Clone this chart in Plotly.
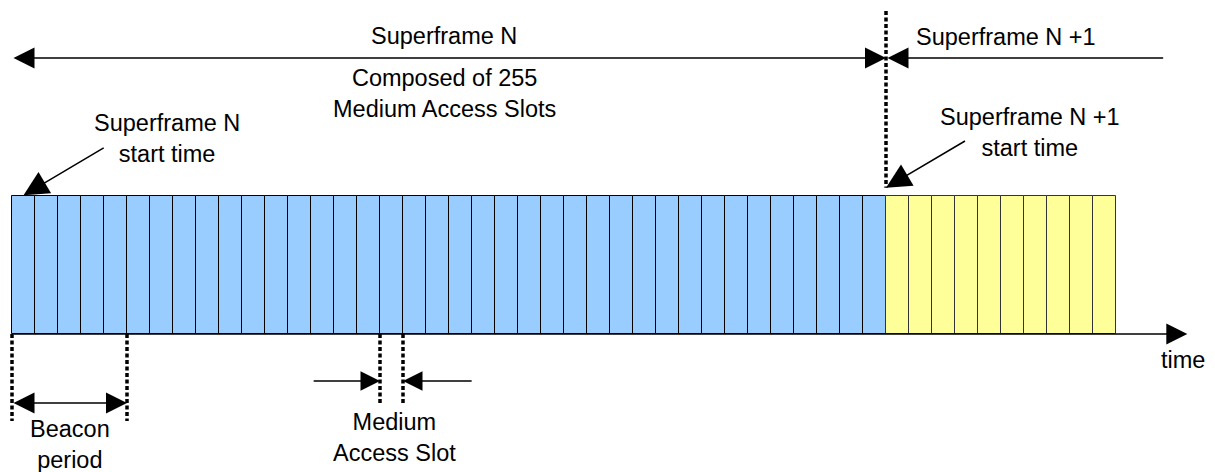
import plotly.graph_objects as go

# ---- data (in slot units) ----
n_slots_superframe_n = 38          # visible slots of superframe N
n_slots_superframe_n1 = 10         # visible slots of superframe N+1
slot_color_n = "#99CCFF"
slot_color_n1 = "#FFFF99"
beacon_period_bounds = [0, 5]      # beacon period spans 5 slots
mas_bounds = [16, 17]              # one medium access slot
superframe_boundary = 38
superframe_n_label = "Superframe N"
superframe_n1_label = "Superframe N +1"
composed_label = "Composed of 255<br>Medium Access Slots"

blue_x = [i + 0.5 for i in range(n_slots_superframe_n)]
yellow_x = [superframe_boundary + i + 0.5 for i in range(n_slots_superframe_n1)]

FONT = dict(family="Liberation Sans, Arial, sans-serif", size=23.5, color="black")

fig = go.Figure()
fig.add_trace(go.Bar(x=blue_x, y=[1] * len(blue_x), width=1, base=0,
                     marker=dict(color=slot_color_n, line=dict(color="black", width=1)),
                     hoverinfo="skip"))
fig.add_trace(go.Bar(x=yellow_x, y=[1] * len(yellow_x), width=1, base=0,
                     marker=dict(color=slot_color_n1, line=dict(color="#333333", width=1)),
                     hoverinfo="skip"))

dash_style = dict(color="black", width=3.5, dash="4px,2.5px")


def vline(x, y0, y1):
    fig.add_trace(go.Scatter(x=[x, x], y=[y0, y1], mode="lines", line=dash_style,
                             hoverinfo="skip"))


# dashed markers
for b in beacon_period_bounds:
    vline(b, 0, -0.63)
for b in mas_bounds:
    vline(b, 0, -0.5)
vline(superframe_boundary, 2.34, 1.06)

ann = []


def arrow(x, y, ax, ay, side="end", size=2.2, width=1.5):
    ann.append(dict(x=x, y=y, ax=ax, ay=ay, xref="x", yref="y", axref="x", ayref="y",
                    text="", showarrow=True, arrowhead=2, startarrowhead=2,
                    arrowside=side, arrowsize=size, startarrowsize=size,
                    arrowwidth=width, arrowcolor="black",
                    standoff=0, startstandoff=0))


def label(x, y, t):
    ann.append(dict(x=x, y=y, xref="x", yref="y", text=t, showarrow=False, font=FONT,
                    xanchor="center", yanchor="middle"))


# top superframe arrows
arrow(superframe_boundary, 2.0, 0, 2.0, side="end+start", size=2.8)
arrow(50.05, 2.0, superframe_boundary, 2.0, side="start", size=2.8)
label(18.8, 2.16, superframe_n_label)
label(18.8, 1.74, composed_label)
label(43.2, 2.155, superframe_n1_label)

# start time arrows
arrow(0.5, 1.005, 4.05, 1.355, size=3.3, width=1.5)
label(6.75, 1.42, superframe_n_label + "<br>start time")
arrow(superframe_boundary, 1.06, 41.5, 1.405, size=3.3, width=1.5)
label(44.25, 1.46, superframe_n1_label + "<br>start time")

# time axis
arrow(51.1, 0, 0, 0, size=2.8, width=1.5)
label(50.9, -0.19, "time")

# beacon period
arrow(beacon_period_bounds[1], -0.5, beacon_period_bounds[0], -0.5,
      side="end+start", size=2.8)
label(2.5, -0.8, "Beacon<br>period")

# medium access slot
arrow(mas_bounds[0], -0.34, 13.05, -0.34, size=2.6)
arrow(mas_bounds[1], -0.34, 20.05, -0.34, size=2.6)
label(16.65, -0.75, "Medium<br>Access Slot")

fig.update_layout(
    width=1215, height=472,
    margin=dict(l=0, r=0, t=0, b=0),
    paper_bgcolor="white", plot_bgcolor="white",
    showlegend=False, barmode="overlay", bargap=0,
    annotations=ann,
    xaxis=dict(range=[-12 / 23, (1215 - 12) / 23], visible=False, fixedrange=True),
    yaxis=dict(range=[-(472 - 334) / 138, 334 / 138], visible=False, fixedrange=True),
)

fig.write_html("out.html",
               config={"displayModeBar": False},
               post_script="document.body.style.margin='0';"
                           "document.body.style.overflow='hidden';")
